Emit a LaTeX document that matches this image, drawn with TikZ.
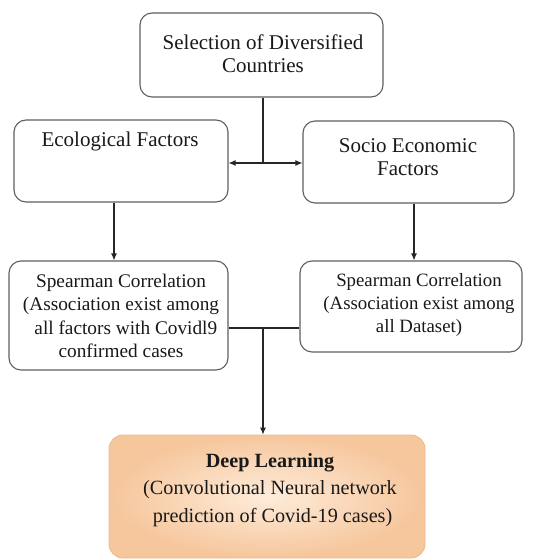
\documentclass[tikz,border=0pt]{standalone}
\usepackage{fontspec}
\setmainfont{Liberation Serif}
\usetikzlibrary{arrows.meta,calc}
\definecolor{edgegray}{RGB}{95,95,95}
\definecolor{peachin}{RGB}{254,236,218}
\definecolor{peachout}{RGB}{246,198,156}
\definecolor{peachedge}{RGB}{238,184,138}
\begin{document}
\begin{tikzpicture}[x=1pt,y=-1pt,
  box/.style={draw=edgegray,line width=1.1pt,rounded corners=12pt,inner sep=0pt,fill=white},
  txt/.style={font=\fontsize{21}{23.3}\selectfont,align=center,inner sep=0pt,text=black!90},
  conn/.style={line width=1.1pt,draw=black!85},
  arr/.style={conn,-{Latex[length=7pt,width=6pt]}}]
\useasboundingbox (0,0) rectangle (533,559);
% boxes
\node[box,minimum width=243pt,minimum height=84pt] (sel) at (261.5,55) {};
\node[box,minimum width=214pt,minimum height=82pt] (eco) at (121,161) {};
\node[box,minimum width=211pt,minimum height=82pt] (soc) at (408.5,162) {};
\node[box,minimum width=219pt,minimum height=109pt] (spl) at (118.5,315.5) {};
\node[box,minimum width=222pt,minimum height=91pt] (spr) at (411,306.5) {};
\node[draw=peachedge,line width=0.8pt,rounded corners=14pt,inner sep=0pt,
      minimum width=316pt,minimum height=123pt,inner color=peachin,outer color=peachout] (dl) at (267,496.5) {};
% texts
\node[txt] (tsel) at (263,54) {Selection of Diversified\\Countries};
\node[txt] (teco) at (120,141) {Ecological Factors};
\node[txt] (tsoc) at (408,157) {Socio Economic\\Factors};
\node[txt,font=\fontsize{19.3}{23.3}\selectfont] (tspl) at (121,316) {Spearman Correlation\\(Association exist among\\\ \ all factors with Covidl9\\confirmed cases};
\node[txt,font=\fontsize{18.8}{23.3}\selectfont] (tspr) at (419,305) {Spearman Correlation\\(Association exist among\\all Dataset)};
\node[txt,font=\fontsize{20.2}{27.5}\selectfont] (tdl) at (270,490) {\textbf{Deep Learning}\\(Convolutional Neural network\\\ prediction of Covid-19 cases)};
% connectors
\coordinate (j1) at (263,163);
\coordinate (j2) at (263,328);
\draw[conn] (sel.south -| j1) -- (j1);
\draw[arr] (j1) -- (j1 -| eco.east);
\draw[arr] (j1) -- (j1 -| soc.west);
\draw[arr] (eco.south -| 114,0) -- (spl.north -| 114,0);
\draw[arr] (soc.south -| 414,0) -- (spr.north -| 414,0);
\draw[conn] (j2 -| spl.east) -- (j2 -| spr.west);
\draw[arr] (j2) -- (j2 |- dl.north);
\end{tikzpicture}
\end{document}
